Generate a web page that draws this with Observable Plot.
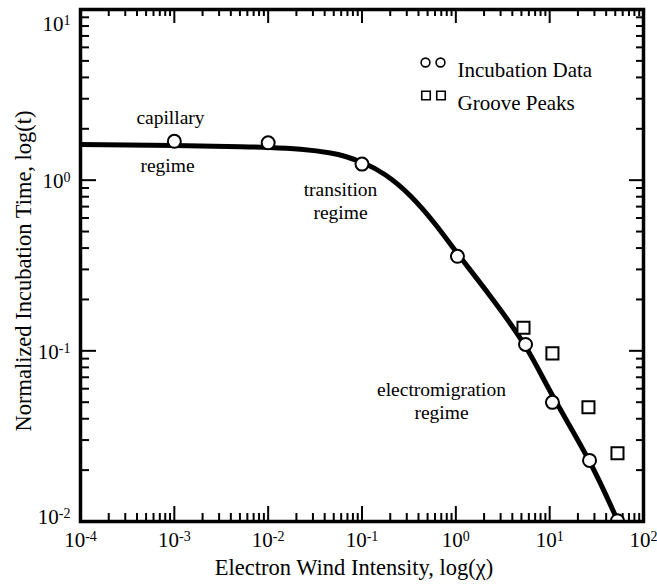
<!DOCTYPE html>
<html><head><meta charset="utf-8">
<script src="https://cdn.jsdelivr.net/npm/d3@7"></script>
<script src="https://cdn.jsdelivr.net/npm/@observablehq/plot@0.6"></script>
<style>html,body{margin:0;padding:0;background:#fff}</style>
</head><body><div id="chart"></div>
<script>
// fitted curve
const lineX = [1e-4, 1e-3, 0.005072, 0.01033, 0.02212, 0.04617, 0.0667, 0.1038, 0.1781, 0.3289, 0.6071, 1.042, 2.342, 5.528, 10.72, 26.6, 52.86, 76.38];
const lineY = [1.618, 1.596, 1.571, 1.554, 1.516, 1.443, 1.376, 1.260, 1.072, 0.8077, 0.5497, 0.3717, 0.2082, 0.1060, 0.0547, 0.02246, 0.01014, 0.00658];
// Incubation Data (circles)
const incX = [1e-3, 1e-2, 0.1, 1.04, 5.53, 10.7, 26.6, 52.8];
const incY = [1.69, 1.656, 1.242, 0.358, 0.109, 0.0499, 0.0228, 0.0101];
// Groove Peaks (squares)
const grooveX = [5.26, 10.7, 25.9, 52.8];
const grooveY = [0.1365, 0.0966, 0.0467, 0.0251];
// ticks
const xMajor = [1e-4, 1e-3, 1e-2, 1e-1, 1, 10, 100];
const xTickLabels = ["10^-4", "10^-3", "10^-2", "10^-1", "10^0", "10^1", "10^2"];
const yMajor = [0.01, 0.1, 1, 10];
const yTickLabels = ["10^-2", "10^-1", "10^0", "10^1"];
// annotations
const annoText = ["capillary", "regime", "transition", "regime", "electromigration", "regime"];
const annoX = [9.1e-4, 8.45e-4, 0.059, 0.059, 0.703, 0.703];
const annoY = [2.31, 1.22, 0.874, 0.64, 0.0594, 0.0435];
const legendLabels = ["Incubation Data", "Groove Peaks"];
const xTitle = "Electron Wind Intensity, log(\u03c7)";
const yTitle = "Normalized Incubation Time, log(t)";

const W = 657, H = 588, mL = 80, mR = 14, mT = 9, mB = 67;
const fw = W - mL - mR, fh = H - mT - mB;
const minorOf = (majors) => majors.slice(0, -1).flatMap(m => [2,3,4,5,6,7,8,9].map(k => k * m));
const xMinor = minorOf(xMajor), yMinor = minorOf(yMajor);
const lineData = lineX.map((x, i) => ({x, y: lineY[i]}));
const incData = incX.map((x, i) => ({x, y: incY[i]}));
const grooveData = grooveX.map((x, i) => ({x, y: grooveY[i]}));
const annoData = annoText.map((t, i) => ({t, x: annoX[i], y: annoY[i]}));
const ylab = d => yTickLabels[yMajor.indexOf(d)];
const font = "'Liberation Serif', 'Times New Roman', serif";
const tk = {stroke: "black", strokeWidth: 2};

const svg = Plot.plot({
  width: W, height: H,
  marginLeft: mL, marginRight: mR, marginTop: mT, marginBottom: mB,
  style: {background: "white", fontFamily: font, color: "black"},
  x: {type: "log", domain: [1e-4, 1e2], axis: null},
  y: {type: "log", domain: [1e-2, 1e1], axis: null},
  marks: [
    // bottom ticks
    Plot.ruleX(xMinor, {x: d => d, insetTop: fh - 8, ...tk}),
    Plot.ruleX(xMajor, {x: d => d, insetTop: fh - 15, ...tk}),
    // top ticks
    Plot.ruleX(xMinor, {x: d => d, insetBottom: fh - 7, ...tk}),
    Plot.ruleX(xMajor, {x: d => d, insetBottom: fh - 14, ...tk}),
    // left ticks
    Plot.ruleY(yMinor, {y: d => d, insetRight: fw - 9, ...tk}),
    Plot.ruleY(yMajor, {y: d => d, insetRight: fw - 16, ...tk}),
    // right ticks
    Plot.ruleY(yMinor, {y: d => d, insetLeft: fw - 7, ...tk}),
    Plot.ruleY(yMajor, {y: d => d, insetLeft: fw - 14, ...tk}),
    // curve
    Plot.line(lineData, {x: "x", y: "y", stroke: "black", strokeWidth: 5, curve: "natural", clip: true}),
    // data
    Plot.dot(grooveData, {x: "x", y: "y", symbol: "square", r: 6.8, fill: "white", stroke: "black", strokeWidth: 2, clip: true}),
    Plot.dot(incData, {x: "x", y: "y", r: 6.5, fill: "white", stroke: "black", strokeWidth: 2, clip: true}),
    Plot.frame({stroke: "black", strokeWidth: 3.5}),
    // tick labels
    Plot.text(xMajor, {x: d => d, frameAnchor: "bottom", dy: 25, text: (d, i) => xTickLabels[i], fontSize: 21, fill: "black"}),
    Plot.text([10], {y: d => d, frameAnchor: "left", dx: -10, dy: 15, textAnchor: "end", text: ylab, fontSize: 21, fill: "black"}),
    Plot.text([1, 0.1], {y: d => d, frameAnchor: "left", dx: -10, dy: 1, textAnchor: "end", text: ylab, fontSize: 21, fill: "black"}),
    Plot.text([0.01], {y: d => d, frameAnchor: "left", dx: -10, dy: -4, textAnchor: "end", text: ylab, fontSize: 21, fill: "black"}),
    // axis titles
    Plot.text([xTitle], {text: d => d, frameAnchor: "bottom", dy: 53, dx: -8, fontSize: 22.5, fill: "black"}),
    Plot.text([yTitle], {text: d => d, frameAnchor: "left", textAnchor: "middle", dx: -57, dy: 5.5, rotate: -90, fontSize: 22.5, fill: "black"}),
    // annotations
    Plot.text(annoData, {x: "x", y: "y", text: "t", fontSize: 19.5, fill: "black"}),
    // legend
    Plot.dot([0], {frameAnchor: "top-left", dx: 345, dy: 53, r: 4.4, fill: "white", stroke: "black", strokeWidth: 1.6}),
    Plot.dot([0], {frameAnchor: "top-left", dx: 360, dy: 53, r: 4.4, fill: "white", stroke: "black", strokeWidth: 1.6}),
    Plot.dot([0], {frameAnchor: "top-left", dx: 345.5, dy: 86, r: 4.8, symbol: "square", fill: "white", stroke: "black", strokeWidth: 1.6}),
    Plot.dot([0], {frameAnchor: "top-left", dx: 360.5, dy: 86, r: 4.8, symbol: "square", fill: "white", stroke: "black", strokeWidth: 1.6}),
    Plot.text([legendLabels[0]], {text: d => d, frameAnchor: "top-left", dx: 377, dy: 53, textAnchor: "start", fontSize: 21, fill: "black"}),
    Plot.text([legendLabels[1]], {text: d => d, frameAnchor: "top-left", dx: 377, dy: 86, textAnchor: "start", fontSize: 21, fill: "black"})
  ]
});

// superscripts for tick labels
d3.select(svg).selectAll("text").each(function () {
  const t = this.textContent;
  if (t.indexOf("^") < 0) return;
  const [base, exp] = t.split("^");
  const sel = d3.select(this);
  sel.text(base);
  sel.append("tspan").attr("dy", "-6").attr("font-size", "14px").text(exp);
});
document.getElementById("chart").appendChild(svg);
</script>
</body></html>
